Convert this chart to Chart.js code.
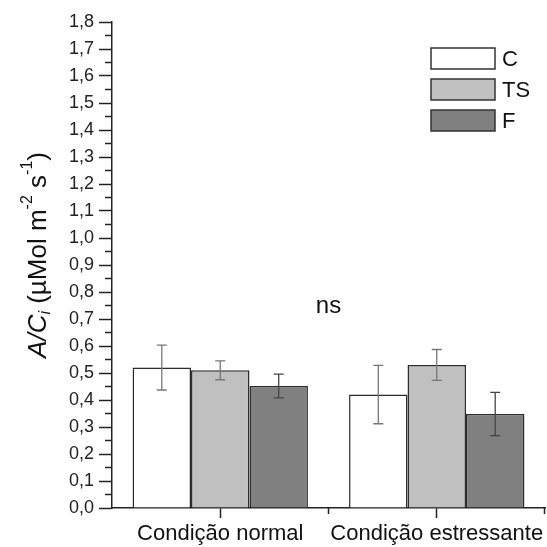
<!DOCTYPE html>
<html>
<head>
<meta charset="utf-8">
<script src="https://cdn.jsdelivr.net/npm/chart.js@4.4.0/dist/chart.umd.min.js"></script>
<style>
  html, body { margin: 0; padding: 0; background: #fff; }
  #wrap { width: 547px; height: 547px; }
</style>
</head>
<body>
<div id="wrap"><canvas id="chart" width="547" height="547"></canvas></div>
<script>
// =========================
// DATA
// =========================
const categories = ["Condição normal", "Condição estressante"];
const seriesNames = ["C", "TS", "F"];
const valuesC = [0.52, 0.42];
const valuesTS = [0.51, 0.53];
const valuesF = [0.452, 0.348];
const errC = [0.083, 0.108];
const errTS = [0.035, 0.057];
const errF = [0.044, 0.08];
const yTickMax = 1.8;
const nsLabel = "ns";
const nsValue = 0.745;

const FONT = "Arial, 'Liberation Sans', sans-serif";
const INK = "#222";

const fills = ["#ffffff", "#c0c0c0", "#808080"];
const errors = [errC, errTS, errF];

// =========================
// PLUGIN: error bars, minor ticks, legend, titles
// =========================
const extras = {
    id: "extras",
    afterDatasetsDraw(chart) {
        const ctx = chart.ctx;
        const yScale = chart.scales.y;

        // error bars
        ctx.save();
        ctx.lineWidth = 1.3;
        chart.data.datasets.forEach((ds, i) => {
            const meta = chart.getDatasetMeta(i);
            ctx.strokeStyle = i === 2 ? "#444" : "#777";
            meta.data.forEach((bar, j) => {
                const v = ds.data[j];
                const e = errors[i][j];
                const yt = yScale.getPixelForValue(v + e);
                const yb = yScale.getPixelForValue(v - e);
                ctx.beginPath();
                ctx.moveTo(bar.x, yt); ctx.lineTo(bar.x, yb);
                ctx.moveTo(bar.x - 5, yt); ctx.lineTo(bar.x + 5, yt);
                ctx.moveTo(bar.x - 5, yb); ctx.lineTo(bar.x + 5, yb);
                ctx.stroke();
            });
        });
        ctx.restore();
    },
    afterDraw(chart) {
        const ctx = chart.ctx;
        const yScale = chart.scales.y;
        const xScale = chart.scales.x;
        const area = chart.chartArea;

        ctx.save();
        ctx.strokeStyle = INK;
        ctx.lineWidth = 1.5;
        // minor y ticks
        for (let k = 0; k < 18; k++) {
            const yy = yScale.getPixelForValue(k * 0.1 + 0.05);
            ctx.beginPath();
            ctx.moveTo(area.left - 7, yy); ctx.lineTo(area.left, yy);
            ctx.stroke();
        }
        // x boundary ticks
        const half = (xScale.getPixelForValue(1) - xScale.getPixelForValue(0)) / 2;
        [xScale.getPixelForValue(0) + half, area.right - 0.5].forEach(xx => {
            ctx.beginPath();
            ctx.moveTo(xx, area.bottom); ctx.lineTo(xx, area.bottom + 6);
            ctx.stroke();
        });
        ctx.restore();

        // ns label
        ctx.save();
        ctx.fillStyle = "#111";
        ctx.font = "24px " + FONT;
        ctx.textAlign = "center";
        ctx.textBaseline = "middle";
        ctx.fillText(nsLabel, xScale.getPixelForValue(0) + half, yScale.getPixelForValue(nsValue));
        ctx.restore();

        // legend
        ctx.save();
        chart.data.datasets.forEach((ds, i) => {
            const top = 48 + i * 31;
            ctx.fillStyle = ds.backgroundColor;
            ctx.fillRect(431, top, 64, 21);
            ctx.strokeStyle = "#333";
            ctx.lineWidth = 1.5;
            ctx.strokeRect(431, top, 64, 21);
            ctx.fillStyle = "#111";
            ctx.font = "22px " + FONT;
            ctx.textAlign = "left";
            ctx.textBaseline = "middle";
            ctx.fillText(ds.label, 502, top + 12);
        });
        ctx.restore();

        // y axis title: A/C_i (µMol m^-2 s^-1)
        const parts = [
            { t: "A/C", size: 26, italic: true, dy: 0 },
            { t: "i", size: 16, italic: true, dy: 7 },
            { t: " (µMol m", size: 26, italic: false, dy: 0 },
            { t: "-2", size: 16, italic: false, dy: -11 },
            { t: " s", size: 26, italic: false, dy: 0 },
            { t: "-1", size: 16, italic: false, dy: -11 },
            { t: ")", size: 26, italic: false, dy: 0 }
        ];
        ctx.save();
        let total = 0;
        parts.forEach(p => {
            ctx.font = (p.italic ? "italic " : "") + p.size + "px " + FONT;
            p.w = ctx.measureText(p.t).width;
            total += p.w;
        });
        ctx.translate(39, 255);
        ctx.rotate(-Math.PI / 2);
        ctx.fillStyle = "#111";
        ctx.textBaseline = "middle";
        ctx.textAlign = "left";
        let cx = -total / 2;
        parts.forEach(p => {
            ctx.font = (p.italic ? "italic " : "") + p.size + "px " + FONT;
            ctx.fillText(p.t, cx, p.dy);
            cx += p.w;
        });
        ctx.restore();
    }
};

// =========================
// CHART
// =========================
const ctx = document.getElementById("chart").getContext("2d");
const seriesValues = [valuesC, valuesTS, valuesF];

new Chart(ctx, {
    type: "bar",
    data: {
        labels: categories,
        datasets: seriesNames.map((name, i) => ({
            label: name,
            data: seriesValues[i],
            backgroundColor: fills[i],
            borderColor: "#2b2b2b",
            borderWidth: 1.5,
            borderSkipped: "bottom",
            barPercentage: 1,
            categoryPercentage: 0.81
        }))
    },
    options: {
        responsive: false,
        animation: false,
        devicePixelRatio: 1,
        layout: { padding: { top: 22, right: 2, left: 0, bottom: 0 } },
        plugins: {
            legend: { display: false },
            tooltip: { enabled: false }
        },
        scales: {
            x: {
                grid: { offset: false, drawOnChartArea: false, tickLength: 10, tickColor: INK, tickWidth: 1.5 },
                border: { color: INK, width: 1.5 },
                ticks: { color: "#111", font: { family: FONT, size: 22 }, padding: 3, maxRotation: 0 },
                afterFit(s) { s.height = 39; }
            },
            y: {
                min: 0,
                max: yTickMax,
                grid: { drawOnChartArea: false, tickLength: 13, tickColor: INK, tickWidth: 1.5 },
                border: { color: INK, width: 1.5 },
                ticks: {
                    stepSize: 0.1,
                    color: "#222",
                    font: { family: FONT, size: 18 },
                    padding: 5,
                    callback: v => v.toFixed(1).replace(".", ",")
                },
                afterFit(s) { s.width = 112; }
            }
        }
    },
    plugins: [extras]
});
</script>
</body>
</html>
